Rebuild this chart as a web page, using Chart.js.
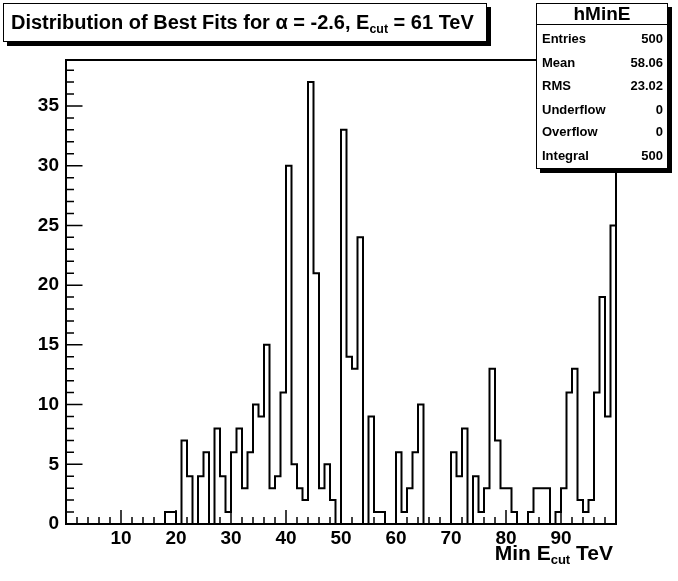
<!DOCTYPE html>
<html>
<head>
<meta charset="utf-8">
<script src="https://cdn.jsdelivr.net/npm/chart.js@4.4.1/dist/chart.umd.min.js"></script>
<style>
    body { margin: 0; background: #fff; }
    #wrap { position: relative; width: 678px; height: 581px; font-family: "Liberation Sans", Arial, sans-serif; font-weight: bold; color: #000; }
    #wrap canvas { position: absolute; left: 0; top: 0; }
    .box { position: absolute; background: #fff; border: 1px solid #000; box-shadow: 4px 4px 0 #000; box-sizing: border-box; }
    #titleBox { left: 3px; top: 3px; width: 484px; height: 39px; font-size: 20px; line-height: 37px; padding-left: 7px; white-space: nowrap; }
    #statsBox { left: 536px; top: 3px; width: 132px; height: 166px; }
    #statsBox .head { height: 20px; border-bottom: 1px solid #000; text-align: center; font-size: 19px; line-height: 19px; }
    #statsBox .row { position: absolute; left: 5px; right: 4px; font-size: 13px; display: flex; justify-content: space-between; }
    sub { font-size: 0.62em; vertical-align: -0.3em; line-height: 0; }
    #xTitle { position: absolute; right: 65px; top: 542px; font-size: 21px; line-height: 21px; white-space: nowrap; }
</style>
</head>
<body>
<div id="wrap">
    <canvas id="histChart" width="678" height="581"></canvas>
    <div class="box" id="titleBox">Distribution of Best Fits for &alpha; = -2.6, E<sub>cut</sub> = 61 TeV</div>
    <div class="box" id="statsBox"><div class="head">hMinE</div></div>
    <div id="xTitle">Min E<sub>cut</sub> TeV</div>
</div>
<script>
// histogram hMinE: 100 bins of width 1 from 0 to 100, counts per bin
const binCounts = [
    0, 0, 0, 0, 0, 0, 0, 0, 0, 0,
    0, 0, 0, 0, 0, 0, 0, 0, 1, 1,
    0, 7, 4, 0, 4, 6, 0, 8, 4, 1,
    6, 8, 3, 6, 10, 9, 15, 3, 4, 11,
    30, 5, 3, 2, 37, 21, 3, 5, 2, 0,
    33, 14, 13, 24, 0, 9, 1, 1, 0, 0,
    6, 1, 3, 6, 10, 0, 0, 0, 0, 0,
    6, 4, 8, 0, 4, 1, 3, 13, 7, 3,
    3, 1, 0, 0, 1, 3, 3, 3, 0, 1,
    3, 11, 13, 2, 1, 2, 11, 19, 9, 25
];
const xMin = 0, xMax = 100, binWidth = 1;
const yMax = 38.85;
const xTickLabels = [10, 20, 30, 40, 50, 60, 70, 80, 90];
const yTickLabels = [0, 5, 10, 15, 20, 25, 30, 35];
const statNames = ['Entries', 'Mean', 'RMS', 'Underflow', 'Overflow', 'Integral'];
const statValues = ['500', '58.06', '23.02', '0', '0', '500'];

// stats box rows
const statsBox = document.getElementById('statsBox');
const rowTops = [27, 51, 74, 98, 120, 144];
statNames.forEach((name, i) => {
    const row = document.createElement('div');
    row.className = 'row';
    row.style.top = rowTops[i] + 'px';
    row.innerHTML = `<span>${name}</span><span>${statValues[i]}</span>`;
    statsBox.appendChild(row);
});

// step outline: one point per bin low edge, plus the last edge
const points = binCounts.map((c, i) => ({ x: xMin + i * binWidth, y: c }));
points.push({ x: xMax, y: binCounts[binCounts.length - 1] });

const tickFont = { family: '"Liberation Sans", Arial, sans-serif', size: 19, weight: 'bold' };

// ROOT-style frame with inward ticks
const framePlugin = {
    id: 'rootFrame',
    afterDatasetsDraw(chart) {
        const { ctx, chartArea: a, scales } = chart;
        ctx.save();
        ctx.strokeStyle = '#000';
        ctx.lineWidth = 1.5;
        ctx.beginPath();
        for (let v = xMin; v <= xMax; v += 2) {
            const px = scales.x.getPixelForValue(v);
            const len = v % 10 === 0 ? 14 : 7;
            ctx.moveTo(px, a.bottom);
            ctx.lineTo(px, a.bottom - len);
        }
        for (let v = 0; v <= yMax; v += 1) {
            const py = scales.y.getPixelForValue(v);
            const len = v % 5 === 0 ? 16.5 : 8;
            ctx.moveTo(a.left, py);
            ctx.lineTo(a.left + len, py);
        }
        ctx.stroke();
        ctx.lineWidth = 2;
        ctx.strokeRect(a.left, a.top, a.right - a.left, a.bottom - a.top);
        ctx.restore();
    }
};

new Chart(document.getElementById('histChart').getContext('2d'), {
    type: 'line',
    data: {
        datasets: [{
            data: points,
            stepped: 'before',
            borderColor: '#000',
            borderWidth: 2,
            pointRadius: 0,
            fill: false
        }]
    },
    options: {
        responsive: false,
        animation: false,
        layout: { padding: { top: 60, right: 62, left: 0, bottom: 0 } },
        plugins: { legend: { display: false }, tooltip: { enabled: false } },
        scales: {
            x: {
                type: 'linear', min: xMin, max: xMax,
                grid: { display: false, drawTicks: false },
                border: { display: false },
                afterBuildTicks: s => { s.ticks = xTickLabels.map(v => ({ value: v })); },
                afterFit: s => { s.height = 57; },
                ticks: { font: tickFont, color: '#000', padding: 3, maxRotation: 0, autoSkip: false }
            },
            y: {
                type: 'linear', min: 0, max: yMax,
                grid: { display: false, drawTicks: false },
                border: { display: false },
                afterBuildTicks: s => { s.ticks = yTickLabels.map(v => ({ value: v })); },
                afterFit: s => { s.width = 66; },
                ticks: { font: tickFont, color: '#000', padding: 7 }
            }
        }
    },
    plugins: [framePlugin]
});
</script>
</body>
</html>
